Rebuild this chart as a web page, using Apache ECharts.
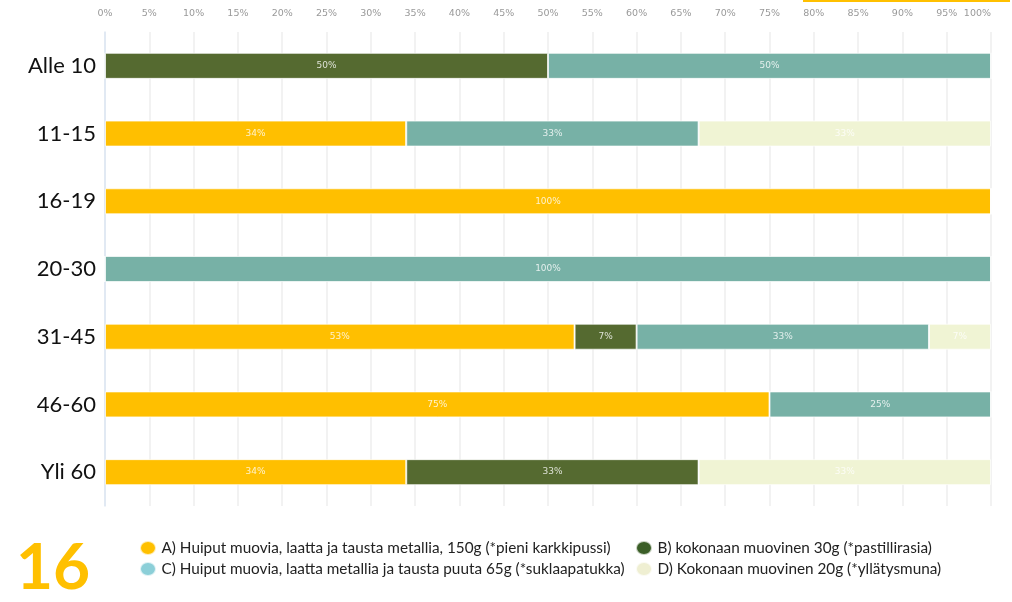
<!DOCTYPE html>
<html>
<head>
<meta charset="utf-8">
<script src="https://cdn.jsdelivr.net/npm/echarts@6/dist/echarts.min.js"></script>
<style>
    html, body { margin: 0; padding: 0; background: #fff; }
    #main { width: 1012px; height: 602px; }
</style>
</head>
<body>
<div id="main"></div>
<script>
    // ikäryhmät ylhäältä alas
    var categories = ['Alle 10', '11-15', '16-19', '20-30', '31-45', '46-60', 'Yli 60'];
    // osuudet prosentteina
    var seriesA = [0, 34, 100, 0, 53, 75, 34];
    var seriesB = [50, 0, 0, 0, 7, 0, 33];
    var seriesC = [50, 33, 0, 100, 33, 25, 0];
    var seriesD = [0, 33, 0, 0, 7, 0, 33];
    var seriesNames = [
        'A) Huiput muovia, laatta ja tausta metallia, 150g (*pieni karkkipussi)',
        'B) kokonaan muovinen 30g (*pastillirasia)',
        'C) Huiput muovia, laatta metallia ja tausta puuta 65g (*suklaapatukka)',
        'D) Kokonaan muovinen 20g (*yllätysmuna)'
    ];
    var barColors = ['#FFBF00', '#556A30', '#77B1A6', '#F0F4D4'];
    var legendColors = ['#FFC000', '#3B5E27', '#8CCFD8', '#EFEFD2'];

    var myChart = echarts.init(document.getElementById('main'));

    function makeSeries(name, data, color) {
        return {
            name: name,
            type: 'bar',
            stack: 'total',
            barWidth: 26,
            data: data,
            itemStyle: {
                color: color,
                borderColor: 'rgba(255,255,255,0.7)',
                borderWidth: 1
            },
            label: {
                show: true,
                position: 'inside',
                color: 'rgba(255,255,255,0.8)',
                fontSize: 9,
                fontFamily: 'DejaVu Sans',
                formatter: function (p) {
                    return p.value > 0 ? p.value + '%' : '';
                }
            }
        };
    }

    var ellipse = 'path://M0,7a8,7 0 1,0 16,0a8,7 0 1,0 -16,0';
    var legendText = { fontSize: 15.3, color: '#222', fontFamily: 'Lato' };

    var option = {
        animation: false,
        grid: {
            left: 105,
            right: 21,
            top: 32,
            bottom: 96
        },
        legend: [
            {
                orient: 'vertical',
                left: 134,
                top: 535,
                itemWidth: 17,
                itemHeight: 14,
                itemGap: 5,
                selectedMode: false,
                icon: ellipse,
                textStyle: legendText,
                data: [
                    { name: seriesNames[0], itemStyle: { color: legendColors[0] } },
                    { name: seriesNames[2], itemStyle: { color: legendColors[2] } }
                ]
            },
            {
                orient: 'vertical',
                left: 630,
                top: 535,
                itemWidth: 17,
                itemHeight: 14,
                itemGap: 5,
                selectedMode: false,
                icon: ellipse,
                textStyle: legendText,
                data: [
                    { name: seriesNames[1], itemStyle: { color: legendColors[1] } },
                    { name: seriesNames[3], itemStyle: { color: legendColors[3] } }
                ]
            }
        ],
        xAxis: {
            type: 'value',
            position: 'top',
            min: 0,
            max: 100,
            interval: 5,
            axisLine: { show: false },
            axisTick: { show: false },
            axisLabel: {
                formatter: '{value}%',
                color: '#999',
                fontSize: 9.5,
                fontFamily: 'DejaVu Sans',
                margin: 13,
                alignMaxLabel: 'right'
            },
            splitLine: { lineStyle: { color: '#eeeeee', width: 1.5 } }
        },
        yAxis: {
            type: 'category',
            inverse: true,
            data: categories,
            axisLine: { lineStyle: { color: '#dbe6f3', width: 1.5 } },
            axisTick: { show: false },
            axisLabel: {
                color: '#111',
                fontSize: 22,
                fontFamily: 'Lato',
                margin: 9
            }
        },
        graphic: [
            {
                type: 'rect',
                left: 803,
                top: 0,
                shape: { width: 207, height: 2 },
                style: { fill: '#FFC000' }
            },
            {
                type: 'text',
                left: 16,
                top: 536,
                style: {
                    text: '16',
                    fill: '#FFC000',
                    font: 'bold 64px Lato'
                }
            }
        ],
        series: [
            makeSeries(seriesNames[0], seriesA, barColors[0]),
            makeSeries(seriesNames[1], seriesB, barColors[1]),
            makeSeries(seriesNames[2], seriesC, barColors[2]),
            makeSeries(seriesNames[3], seriesD, barColors[3])
        ]
    };

    myChart.setOption(option);
</script>
</body>
</html>
